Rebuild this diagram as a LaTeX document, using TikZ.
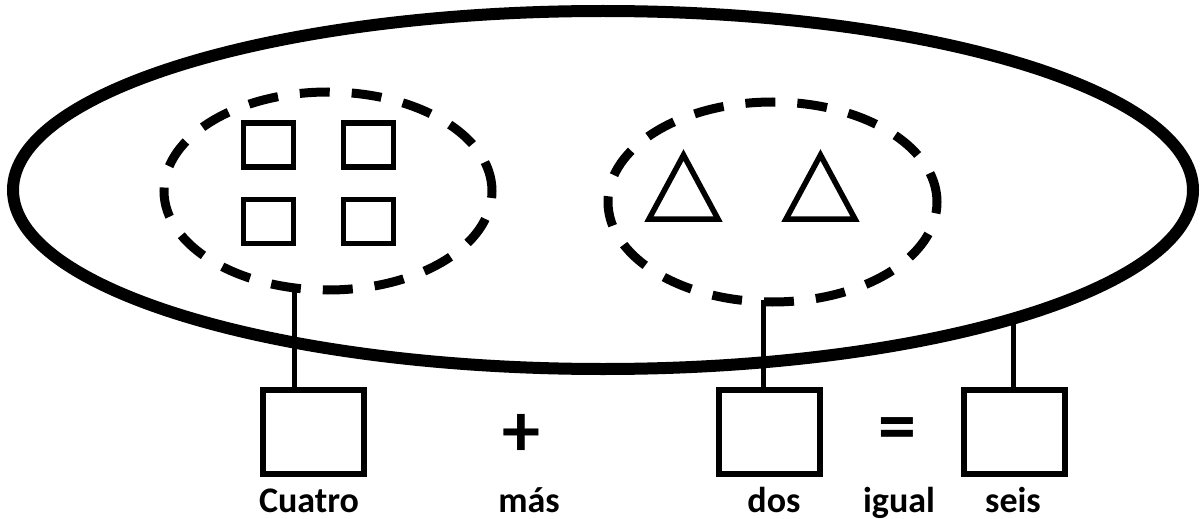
\documentclass[tikz,border=0pt]{standalone}
\usepackage{fontspec}
\setmainfont{Carlito}
\usetikzlibrary{shapes.geometric}
\begin{document}
\begin{tikzpicture}[x=1pt,y=-1pt,
  bigell/.style={draw,ellipse,line width=12pt,inner sep=0pt},
  dashell/.style={draw,ellipse,line width=9pt,inner sep=0pt,dash pattern=on 30pt off 22pt},
  sq/.style={draw,line width=5.5pt,inner sep=0pt,minimum width=50pt,minimum height=44pt},
  tri/.style={line width=5.5pt,line join=miter},
  numbox/.style={draw,line width=6pt,inner sep=0pt,minimum width=101pt,minimum height=84pt},
  conn/.style={line width=5pt},
  lbl/.style={font=\fontsize{36}{40}\selectfont\bfseries,inner sep=0pt,anchor=base},
  op/.style={font=\fontsize{76}{80}\selectfont\bfseries,inner sep=0pt}]
\useasboundingbox (0,0) rectangle (1203,519);
\node[bigell,minimum width=1180pt,minimum height=358pt] (big) at (603,190) {};
\node[dashell,minimum width=328pt,minimum height=198pt] (left) at (328,191) {};
\node[dashell,minimum width=329pt,minimum height=200pt] (right) at (772.5,202) {};
% squares
\node[sq] (s1) at (268.7,145) {};
\node[sq] (s2) at (368.7,145) {};
\node[sq] (s3) at (268.7,221.5) {};
\node[sq] (s4) at (368.7,221.5) {};
% triangles
\draw[tri] (649,219) -- (683.5,155) -- (718,219) -- cycle;
\draw[tri] (786,219) -- (820.5,155) -- (855,219) -- cycle;
% number boxes
\node[numbox] (b1) at (313.5,432) {};
\node[numbox] (b2) at (769.5,432) {};
\node[numbox] (b3) at (1014.5,432) {};
% connectors
\coordinate (c1) at (294,289);
\coordinate (c2) at (763,300);
\coordinate (c3) at (1013,319);
\draw[conn] (c1) -- (c1 |- b1.north);
\draw[conn] (c2) -- (c2 |- b2.north);
\draw[conn] (c3) -- (c3 |- b3.north);
% operators
\node[op] (plus) at (521,435) {+};
\node[op] (eq) at (897,435) {=};
% labels
\node[lbl] (t1) at (309,512) {Cuatro};
\node[lbl] (t2) at (529,512) {más};
\node[lbl] (t3) at (774,512) {dos};
\node[lbl] (t4) at (899,512) {igual};
\node[lbl] (t5) at (1013,512) {seis};
\end{tikzpicture}
\end{document}
